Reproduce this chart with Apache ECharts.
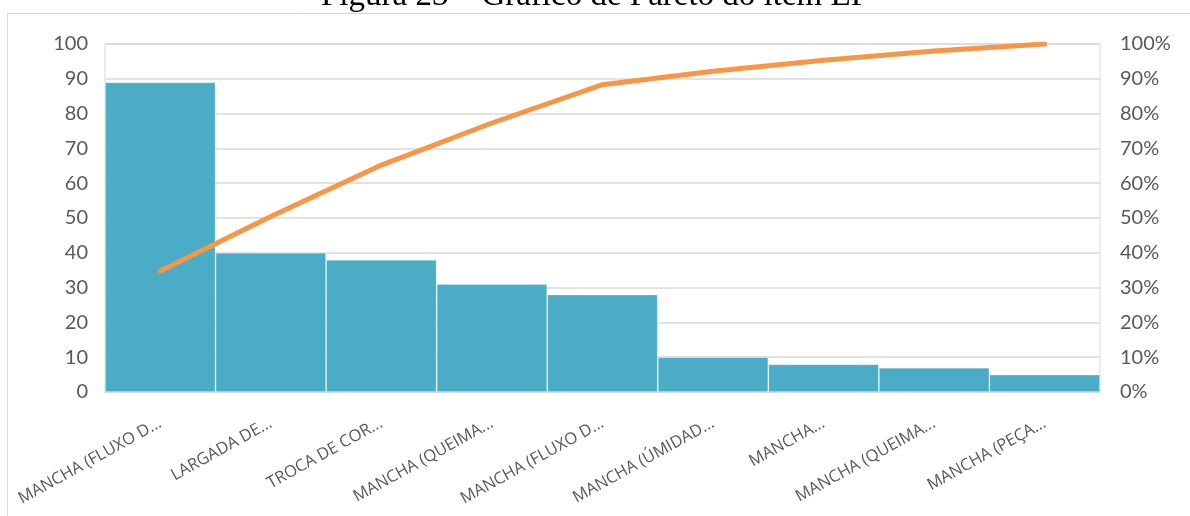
<!DOCTYPE html>
<html>
<head>
<meta charset="utf-8">
<title>Gráfico de Pareto do item EP</title>
<script src="https://cdn.jsdelivr.net/npm/echarts@6/dist/echarts.min.js"></script>
<style>
  html, body { margin: 0; padding: 0; background: #ffffff; }
  #chart { width: 1190px; height: 516px; }
</style>
</head>
<body>
<div id="chart"></div>
<script>
// Defect categories (labels as truncated on the axis)
const categories = [
  'MANCHA (FLUXO D...',
  'LARGADA DE...',
  'TROCA DE COR...',
  'MANCHA (QUEIMA...',
  'MANCHA (FLUXO D...',
  'MANCHA (ÚMIDAD...',
  'MANCHA...',
  'MANCHA (QUEIMA...',
  'MANCHA (PEÇA...'
];

// Occurrences per category
const counts = [89, 40, 38, 31, 28, 10, 8, 7, 5];

// Cumulative share (%)
const cumulativePct = [34.8, 50.4, 65.2, 77.3, 88.3, 92.2, 95.3, 98.0, 100];

const titleText = 'Figura 23 – Gráfico de Pareto do item EP';

const chart = echarts.init(document.getElementById('chart'), null, { renderer: 'canvas' });

const axisTextColor = '#595959';
const gridLineColor = '#d9d9d9';

chart.setOption({
  backgroundColor: '#ffffff',
  animation: false,
  graphic: [
    {
      type: 'text',
      left: 'center',
      top: -20,
      style: {
        text: titleText,
        font: '33px "Liberation Serif", "Times New Roman", serif',
        fill: '#000000'
      },
      z: 10
    },
    {
      type: 'rect',
      shape: { x: 7.5, y: 13.5, width: 1300, height: 600 },
      style: { fill: 'none', stroke: '#d9d9d9', lineWidth: 1 },
      silent: true,
      z: 0
    }
  ],
  grid: {
    left: 105,
    right: 90,
    top: 44,
    bottom: 124,
    show: true,
    borderColor: gridLineColor,
    borderWidth: 1,
    backgroundColor: 'transparent'
  },
  xAxis: {
    type: 'category',
    data: categories,
    boundaryGap: true,
    axisLine: { show: true, lineStyle: { color: gridLineColor, width: 1 } },
    axisTick: { show: false },
    axisLabel: {
      interval: 0,
      rotate: 29,
      margin: 30,
      color: axisTextColor,
      fontFamily: '"Open Sans", sans-serif',
      fontSize: 16.5
    },
    splitLine: { show: false }
  },
  yAxis: [
    {
      type: 'value',
      min: 0,
      max: 100,
      interval: 10,
      axisLine: { show: false },
      axisTick: { show: false },
      axisLabel: {
        margin: 17,
        color: axisTextColor,
        fontFamily: 'Lato, sans-serif',
        fontSize: 20
      },
      splitLine: { show: true, lineStyle: { color: gridLineColor, width: 1.5 } }
    },
    {
      type: 'value',
      min: 0,
      max: 100,
      interval: 10,
      position: 'right',
      axisLine: { show: false },
      axisTick: { show: false },
      axisLabel: {
        margin: 20,
        color: axisTextColor,
        fontFamily: 'Lato, sans-serif',
        fontSize: 20,
        formatter: '{value}%'
      },
      splitLine: { show: false }
    }
  ],
  series: [
    {
      name: 'Ocorrências',
      type: 'bar',
      data: counts,
      barCategoryGap: '0%',
      itemStyle: {
        color: '#4BACC6',
        borderColor: 'rgba(255,255,255,0.22)',
        borderWidth: 1
      },
      z: 2
    },
    {
      name: 'Acumulado',
      type: 'line',
      yAxisIndex: 1,
      data: cumulativePct,
      symbol: 'none',
      lineStyle: { color: '#F79646', width: 5, cap: 'round', join: 'round' },
      itemStyle: { color: '#F79646' },
      z: 3
    }
  ]
});
</script>
</body>
</html>
